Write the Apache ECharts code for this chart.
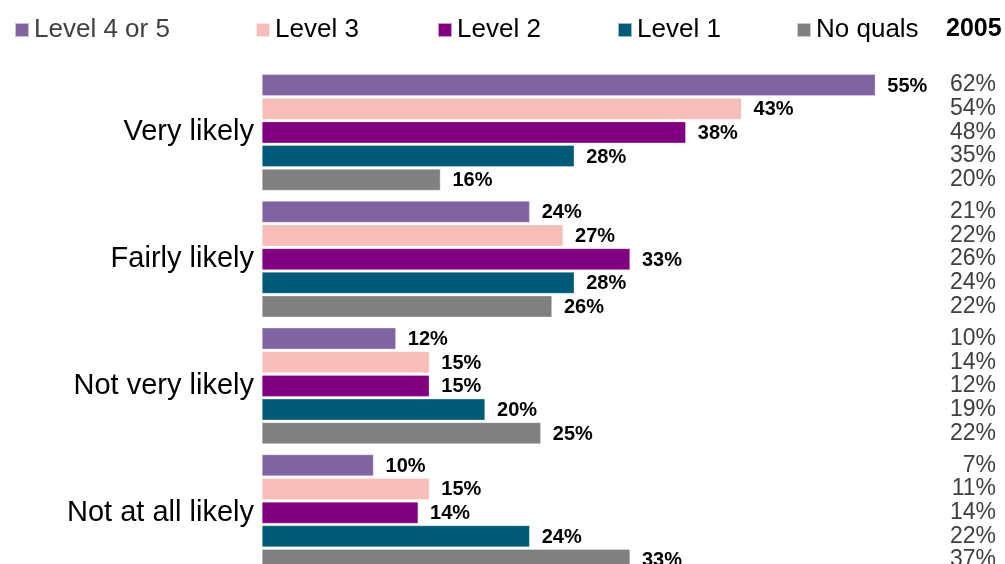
<!DOCTYPE html>
<html>
<head>
<meta charset="utf-8">
<script src="https://cdn.jsdelivr.net/npm/echarts@6/dist/echarts.min.js"></script>
<style>
  html, body { margin: 0; padding: 0; background: #ffffff; }
  #chart { width: 1005px; height: 564px; }
</style>
</head>
<body>
<div id="chart"></div>
<script>
// Likelihood categories (top to bottom)
const categories = ['Very likely', 'Fairly likely', 'Not very likely', 'Not at all likely'];

// Series names (qualification level)
const seriesNames = ['Level 4 or 5', 'Level 3', 'Level 2', 'Level 1', 'No quals'];

// Current values (%), one array per qualification level
const level45 = [55, 24, 12, 10];
const level3  = [43, 27, 15, 15];
const level2  = [38, 33, 15, 14];
const level1  = [28, 28, 20, 24];
const noQuals = [16, 26, 25, 33];

// 2005 comparison values (%), same order
const level45_2005 = [62, 21, 10, 7];
const level3_2005  = [54, 22, 14, 11];
const level2_2005  = [48, 26, 12, 14];
const level1_2005  = [35, 24, 19, 22];
const noQuals_2005 = [20, 22, 22, 37];

const currentValues = [level45, level3, level2, level1, noQuals];
const values2005 = [level45_2005, level3_2005, level2_2005, level1_2005, noQuals_2005];

const colors = ['#8064A2', '#F6BDB9', '#800080', '#005A78', '#808080'];
const FONT = '"Liberation Sans", Arial, sans-serif';

const legendLefts = [14, 255, 437, 617, 796];

const chart = echarts.init(document.getElementById('chart'), null, { renderer: 'canvas' });

const option = {
  backgroundColor: '#ffffff',
  animation: false,
  title: {
    text: '2005',
    left: 946,
    top: 17,
    padding: 0,
    textStyle: { fontFamily: FONT, fontSize: 25, fontWeight: 'bold', color: '#000000' }
  },
  legend: seriesNames.map((name, i) => ({
    data: [name],
    left: legendLefts[i],
    top: 17,
    padding: 0,
    itemWidth: 14,
    itemHeight: 14,
    icon: 'rect',
    selectedMode: false,
    textStyle: {
      fontFamily: FONT,
      fontSize: 26,
      color: i === 0 ? '#404040' : '#000000'
    }
  })),
  grid: {
    left: 262,
    top: 69,
    width: 736,
    height: 507,
    containLabel: false,
    outerBoundsMode: 'none'
  },
  xAxis: [{
    type: 'value',
    min: 0,
    max: 66,
    show: false
  }],
  yAxis: [{
    type: 'category',
    data: categories,
    inverse: true,
    axisLine: { show: false },
    axisTick: { show: false },
    splitLine: { show: false },
    axisLabel: {
      margin: 8,
      fontFamily: FONT,
      fontSize: 29,
      color: '#000000'
    }
  }, {
    // right-hand column with the 2005 figures for every bar
    type: 'category',
    data: categories,
    inverse: true,
    position: 'right',
    axisLine: { show: false },
    axisTick: { show: false },
    splitLine: { show: false },
    axisLabel: {
      margin: -2,
      align: 'right',
      fontFamily: FONT,
      fontSize: 23,
      lineHeight: 23.7,
      color: '#404040',
      formatter: (value, index) => values2005.map(arr => arr[index] + '%').join('\n')
    }
  }],
  series: seriesNames.map((name, i) => ({
    name: name,
    type: 'bar',
    xAxisIndex: 0,
    yAxisIndex: 0,
    data: currentValues[i],
    barWidth: 21.5,
    barGap: '10%',
    itemStyle: { color: colors[i], borderColor: 'rgba(255,255,255,0.6)', borderWidth: 0.5 },
    label: {
      show: true,
      position: 'right',
      distance: 12,
      offset: [0, 1],
      formatter: '{c}%',
      fontFamily: FONT,
      fontSize: 20,
      fontWeight: 'bold',
      color: '#000000'
    }
  }))
};

chart.setOption(option);
</script>
</body>
</html>
